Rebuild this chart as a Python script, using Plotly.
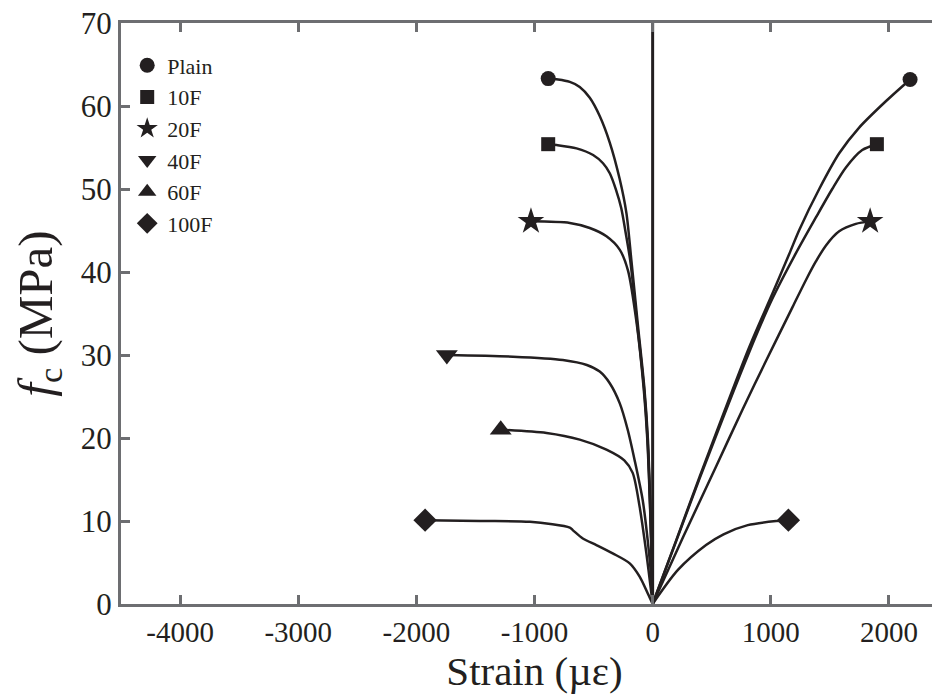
import plotly.graph_objects as go

# ---- data (strain in micro-strain, stress in MPa) ----
series_names = ["Plain", "10F", "20F", "40F", "60F", "100F"]
series_symbols = ["circle", "square", "star", "triangle-down", "triangle-up", "diamond"]
series_sizes = [15, 14, 20, 19, 19, 18]

# lateral (negative) branches: from origin up to peak
plain_lat_x = [0, -7, -16, -40, -70, -127, -180, -222, -279, -363, -448, -532, -617, -701, -800, -884]
plain_lat_y = [0, 5.0, 10.0, 19.8, 26.0, 33.9, 41.4, 47.1, 51.2, 55.6, 58.8, 61.0, 62.3, 62.9, 63.2, 63.3]

f10_lat_x = [0, -8, -17, -43, -73, -132, -190, -228, -266, -310, -363, -420, -504, -644, -813, -884]
f10_lat_y = [0, 5.0, 10.0, 19.8, 26.0, 33.9, 41.4, 44.7, 47.7, 49.9, 51.9, 53.1, 54.1, 54.9, 55.3, 55.4]

f20_lat_x = [0, -8, -18, -45, -76, -136, -209, -279, -391, -532, -701, -1030]
f20_lat_y = [0, 5.0, 10.0, 19.8, 26.0, 33.9, 40.2, 42.7, 44.3, 45.3, 45.9, 46.1]

f40_lat_x = [0, -8, -42, -84, -152, -211, -279, -363, -448, -557, -760, -1182, -1742]
f40_lat_y = [0, 2.5, 7.7, 12.5, 17.3, 21.0, 24.2, 26.6, 28.0, 28.8, 29.4, 29.8, 30.0]

f60_lat_x = [0, -11, -53, -110, -169, -240, -391, -617, -898, -1286]
f60_lat_y = [0, 1.3, 6.1, 11.7, 15.8, 17.3, 18.6, 19.8, 20.6, 21.0]

f100_lat_x = [0, -42, -110, -194, -338, -476, -591, -676, -701, -1039, -1461, -1926]
f100_lat_y = [0, 1.3, 3.3, 4.9, 6.1, 7.1, 7.9, 8.9, 9.2, 9.9, 10.0, 10.1]

# axial (positive) branches
plain_ax_x = [0, 200, 397, 819, 1014, 1157, 1242, 1410, 1579, 1748, 1976, 2179]
plain_ax_y = [0, 7.7, 15.3, 31.0, 37.4, 42.2, 45.1, 50.0, 54.3, 57.4, 60.6, 63.2]

f10_ax_x = [0, 200, 397, 819, 1014, 1214, 1383, 1520, 1636, 1774, 1898]
f10_ax_y = [0, 7.6, 15.1, 30.4, 36.8, 42.3, 46.6, 50.0, 52.6, 54.7, 55.4]

f20_ax_x = [0, 256, 538, 763, 960, 1185, 1300, 1383, 1467, 1579, 1720, 1841]
f20_ax_y = [0, 8.0, 16.6, 23.5, 29.3, 35.8, 39.1, 41.3, 43.2, 44.9, 45.8, 46.1]

f100_ax_x = [0, 214, 452, 600, 805, 1045, 1149]
f100_ax_y = [0, 4.1, 7.1, 8.4, 9.5, 10.0, 10.1]

lateral_x = [plain_lat_x, f10_lat_x, f20_lat_x, f40_lat_x, f60_lat_x, f100_lat_x]
lateral_y = [plain_lat_y, f10_lat_y, f20_lat_y, f40_lat_y, f60_lat_y, f100_lat_y]
axial_x = [plain_ax_x, f10_ax_x, f20_ax_x, None, None, f100_ax_x]
axial_y = [plain_ax_y, f10_ax_y, f20_ax_y, None, None, f100_ax_y]

x_ticks = [-4000, -3000, -2000, -1000, 0, 1000, 2000]
y_ticks = [0, 10, 20, 30, 40, 50, 60, 70]

LINE = "#231f20"
AXIS = "#6d6e71"
FONT = "Liberation Serif, Times New Roman, serif"

fig = go.Figure()

# vertical zero line
fig.add_trace(go.Scatter(x=[0, 0], y=[0, 70], mode="lines",
                         line=dict(color=LINE, width=3), showlegend=False, hoverinfo="skip"))

for i, name in enumerate(series_names):
    fig.add_trace(go.Scatter(x=lateral_x[i], y=lateral_y[i], mode="lines",
                             line=dict(color=LINE, width=2.5, shape="spline", smoothing=0.8),
                             showlegend=False, hoverinfo="skip"))
    mx = [lateral_x[i][-1]]
    my = [lateral_y[i][-1]]
    if axial_x[i] is not None:
        fig.add_trace(go.Scatter(x=axial_x[i], y=axial_y[i], mode="lines",
                                 line=dict(color=LINE, width=2.5, shape="spline", smoothing=0.8),
                                 showlegend=False, hoverinfo="skip"))
        mx.append(axial_x[i][-1])
        my.append(axial_y[i][-1])
    fig.add_trace(go.Scatter(x=mx, y=my, mode="markers", name=name,
                             marker=dict(symbol=series_symbols[i], size=series_sizes[i],
                                         color=LINE, line=dict(width=0))))

fig.update_layout(
    width=940, height=697,
    margin=dict(l=113, r=0, t=15, b=101),
    paper_bgcolor="white", plot_bgcolor="white",
    font=dict(family=FONT, color="#231f20"),
    showlegend=True,
    legend=dict(x=0.0075, y=0.963, xanchor="left", yanchor="top",
                font=dict(family=FONT, size=22, color="#231f20"),
                bgcolor="rgba(0,0,0,0)", borderwidth=0, tracegroupgap=0,
                itemsizing="trace"),
    xaxis=dict(range=[-4500, 2500], tickvals=x_ticks, ticktext=[str(v) for v in x_ticks],
               showgrid=False, zeroline=False, showline=True, linecolor=AXIS, linewidth=3,
               mirror="ticks", ticks="inside", ticklen=9, tickwidth=3, tickcolor=AXIS,
               automargin=False, ticklabeloverflow="allow",
               tickfont=dict(family=FONT, size=29, color="#231f20"),
               title=dict(text="Strain (µε)", font=dict(family=FONT, size=41, color="#231f20"),
                          standoff=6)),
    yaxis=dict(range=[0, 70], tickvals=y_ticks, ticktext=[str(v) for v in y_ticks],
               showgrid=False, zeroline=False, showline=True, linecolor=AXIS, linewidth=3,
               mirror="ticks", ticks="inside", ticklen=9, tickwidth=3, tickcolor=AXIS,
               automargin=False, ticklabeloverflow="allow",
               tickfont=dict(family=FONT, size=31, color="#231f20"),
               title=dict(text="<i>f</i><sub>c</sub> (MPa)",
                          font=dict(family=FONT, size=49, color="#231f20"), standoff=24)),
)

fig.write_html("out.html")
